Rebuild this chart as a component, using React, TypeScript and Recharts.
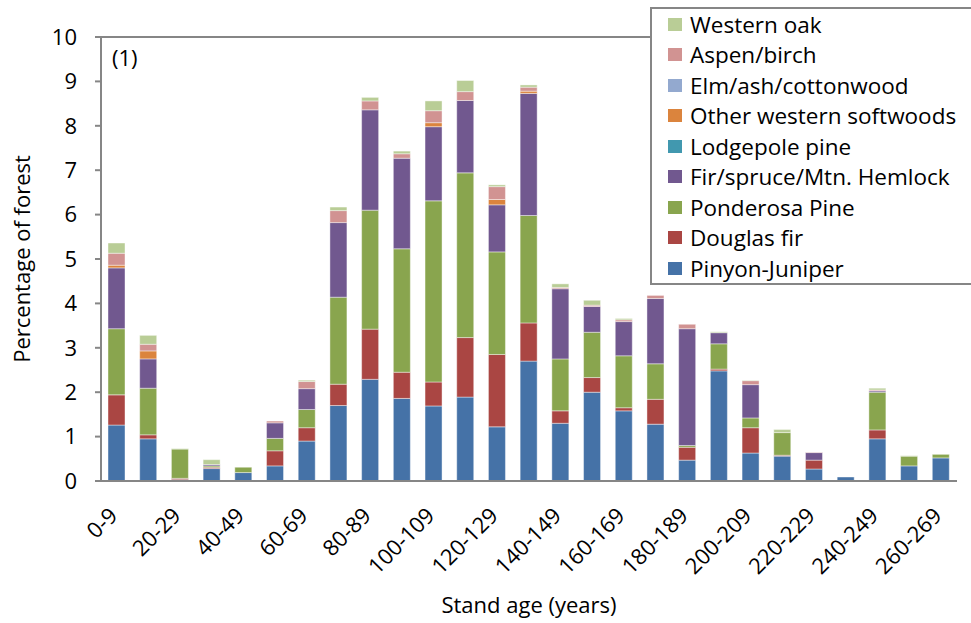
import React from 'react';
import { BarChart, Bar, XAxis, YAxis, ReferenceLine, Legend } from 'recharts';

const ageClasses = [
  '0-9', '10-19', '20-29', '30-39', '40-49', '50-59', '60-69', '70-79', '80-89',
  '90-99', '100-109', '110-119', '120-129', '130-139', '140-149', '150-159',
  '160-169', '170-179', '180-189', '190-199', '200-209', '210-219', '220-229',
  '230-239', '240-249', '250-259', '260-269',
];

const pinyonJuniper = [1.26, 0.95, 0.03, 0.28, 0.19, 0.34, 0.9, 1.7, 2.29, 1.86, 1.69, 1.89, 1.22, 2.7, 1.3, 2.0, 1.58, 1.28, 0.47, 2.48, 0.63, 0.56, 0.27, 0.09, 0.95, 0.34, 0.52];
const douglasFir = [0.68, 0.09, 0.03, 0.03, 0, 0.34, 0.3, 0.48, 1.13, 0.59, 0.54, 1.34, 1.63, 0.86, 0.28, 0.33, 0.07, 0.56, 0.29, 0.04, 0.57, 0.02, 0.2, 0, 0.2, 0, 0];
const ponderosaPine = [1.49, 1.05, 0.66, 0.03, 0.12, 0.28, 0.41, 1.96, 2.68, 2.78, 4.08, 3.71, 2.31, 2.42, 1.17, 1.02, 1.17, 0.8, 0.04, 0.57, 0.22, 0.51, 0, 0, 0.85, 0.22, 0.08];
const firSpruce = [1.37, 0.66, 0, 0.03, 0, 0.35, 0.47, 1.68, 2.26, 2.04, 1.67, 1.63, 1.06, 2.75, 1.58, 0.58, 0.77, 1.47, 2.63, 0.25, 0.75, 0, 0.17, 0, 0.03, 0, 0];
const lodgepolePine = [0, 0, 0, 0, 0, 0, 0, 0, 0, 0, 0, 0, 0, 0, 0, 0, 0, 0, 0, 0, 0, 0, 0, 0, 0, 0, 0];
const otherSoftwoods = [0.06, 0.18, 0, 0, 0, 0, 0, 0, 0, 0, 0.09, 0, 0.12, 0.05, 0, 0, 0, 0, 0, 0, 0, 0, 0, 0, 0, 0, 0];
const elmAshCottonwood = [0, 0, 0, 0, 0, 0, 0, 0, 0, 0, 0, 0, 0, 0, 0, 0, 0, 0, 0, 0, 0, 0, 0, 0, 0, 0, 0];
const aspenBirch = [0.27, 0.15, 0, 0, 0, 0.04, 0.16, 0.27, 0.2, 0.1, 0.27, 0.2, 0.29, 0.09, 0.03, 0.03, 0.04, 0.07, 0.1, 0, 0.09, 0, 0.01, 0, 0.02, 0, 0];
const westernOak = [0.23, 0.2, 0.01, 0.11, 0, 0, 0.03, 0.08, 0.08, 0.06, 0.22, 0.25, 0.04, 0.05, 0.08, 0.11, 0.03, 0, 0, 0.02, 0.01, 0.07, 0, 0, 0.04, 0.01, 0];

const yTicks = [0, 1, 2, 3, 4, 5, 6, 7, 8, 9, 10];

// bottom of the stack first
const species = [
  { key: 'pj', name: 'Pinyon-Juniper', color: '#4572A7', values: pinyonJuniper },
  { key: 'df', name: 'Douglas fir', color: '#AA4643', values: douglasFir },
  { key: 'pp', name: 'Ponderosa Pine', color: '#89A54E', values: ponderosaPine },
  { key: 'fs', name: 'Fir/spruce/Mtn. Hemlock', color: '#71588F', values: firSpruce },
  { key: 'lp', name: 'Lodgepole pine', color: '#4198AF', values: lodgepolePine },
  { key: 'ows', name: 'Other western softwoods', color: '#DB843D', values: otherSoftwoods },
  { key: 'elm', name: 'Elm/ash/cottonwood', color: '#93A9CF', values: elmAshCottonwood },
  { key: 'ab', name: 'Aspen/birch', color: '#D19392', values: aspenBirch },
  { key: 'oak', name: 'Western oak', color: '#B9CD96', values: westernOak },
];

const chartData = ageClasses.map((age, i) => {
  const row: Record<string, string | number> = { age };
  species.forEach((s) => {
    row[s.key] = s.values[i];
  });
  return row;
});

const edgeTicks = [...ageClasses.map((_, i) => i), ageClasses.length];

const axisGray = '#868686';
const fontSize = 22;

const AgeTick = (props: any) => {
  const { x, y, payload } = props;
  return (
    <g transform={`translate(${x + 2},${y + 28})`}>
      <text x={0} y={0} textAnchor="end" fontSize={fontSize} fill="#000" transform="rotate(-45)">
        {payload.value}
      </text>
    </g>
  );
};

// legend lists the top of the stack first
const LegendBox = () => (
  <div
    style={{
      border: `2px solid ${axisGray}`,
      background: '#fff',
      width: 330,
      height: 278,
      boxSizing: 'border-box',
      paddingLeft: 16,
      fontSize: 22.5,
      color: '#000',
    }}
  >
    {[...species].reverse().map((s) => (
      <div key={s.key} style={{ display: 'flex', alignItems: 'center', height: 30.5, whiteSpace: 'nowrap' }}>
        <span style={{ width: 14, height: 13, background: s.color, marginRight: 8, display: 'inline-block', flex: 'none' }} />
        <span>{s.name}</span>
      </div>
    ))}
  </div>
);

export default function App() {
  return (
    <div
      style={{
        position: 'absolute',
        left: 0,
        top: 0,
        width: 971,
        height: 623,
        overflow: 'hidden',
        background: '#fff',
        fontFamily: '"Open Sans", sans-serif',
      }}
    >
      <BarChart
        width={971}
        height={623}
        data={chartData}
        margin={{ top: 37, right: 14, bottom: 0, left: 0 }}
        barSize={17}
      >
        <XAxis
          xAxisId="edges"
          type="number"
          domain={[0, ageClasses.length]}
          ticks={edgeTicks}
          allowDataOverflow
          tick={false}
          axisLine={false}
          tickLine={{ stroke: axisGray, strokeWidth: 2 }}
          tickSize={7}
          height={0}
        />
        <XAxis
          dataKey="age"
          interval={1}
          tick={<AgeTick />}
          tickLine={false}
          axisLine={{ stroke: axisGray, strokeWidth: 2 }}
          height={142}
          label={{ value: 'Stand age (years)', position: 'insideBottom', offset: 10, fontSize, fill: '#000' }}
        />
        <YAxis
          domain={[0, 10]}
          ticks={yTicks}
          width={101}
          tickSize={6}
          tickMargin={18}
          tick={{ fontSize, fill: '#000' }}
          axisLine={{ stroke: axisGray, strokeWidth: 2 }}
          tickLine={{ stroke: axisGray, strokeWidth: 2 }}
          label={{
            value: 'Percentage of forest',
            angle: -90,
            position: 'insideLeft',
            offset: 22,
            fontSize,
            fill: '#000',
            style: { textAnchor: 'middle' },
          }}
        />
        <ReferenceLine y={10} stroke={axisGray} strokeWidth={2} />
        <ReferenceLine xAxisId="edges" x={ageClasses.length} stroke={axisGray} strokeWidth={2} />
        {species.map((s) => (
          <Bar
            key={s.key}
            dataKey={s.key}
            name={s.name}
            stackId="age"
            fill={s.color}
            stroke="#ffffff"
            strokeWidth={0.6}
            strokeOpacity={0.7}
            isAnimationActive={false}
          />
        ))}
        <Legend
          layout="vertical"
          align="center"
          verticalAlign="middle"
          content={<LegendBox />}
          wrapperStyle={{ left: 650, top: 7, width: 330, height: 278 }}
        />
      </BarChart>
      <div style={{ position: 'absolute', left: 112, top: 46, fontSize, lineHeight: 1, color: '#000' }}>(1)</div>
    </div>
  );
}
